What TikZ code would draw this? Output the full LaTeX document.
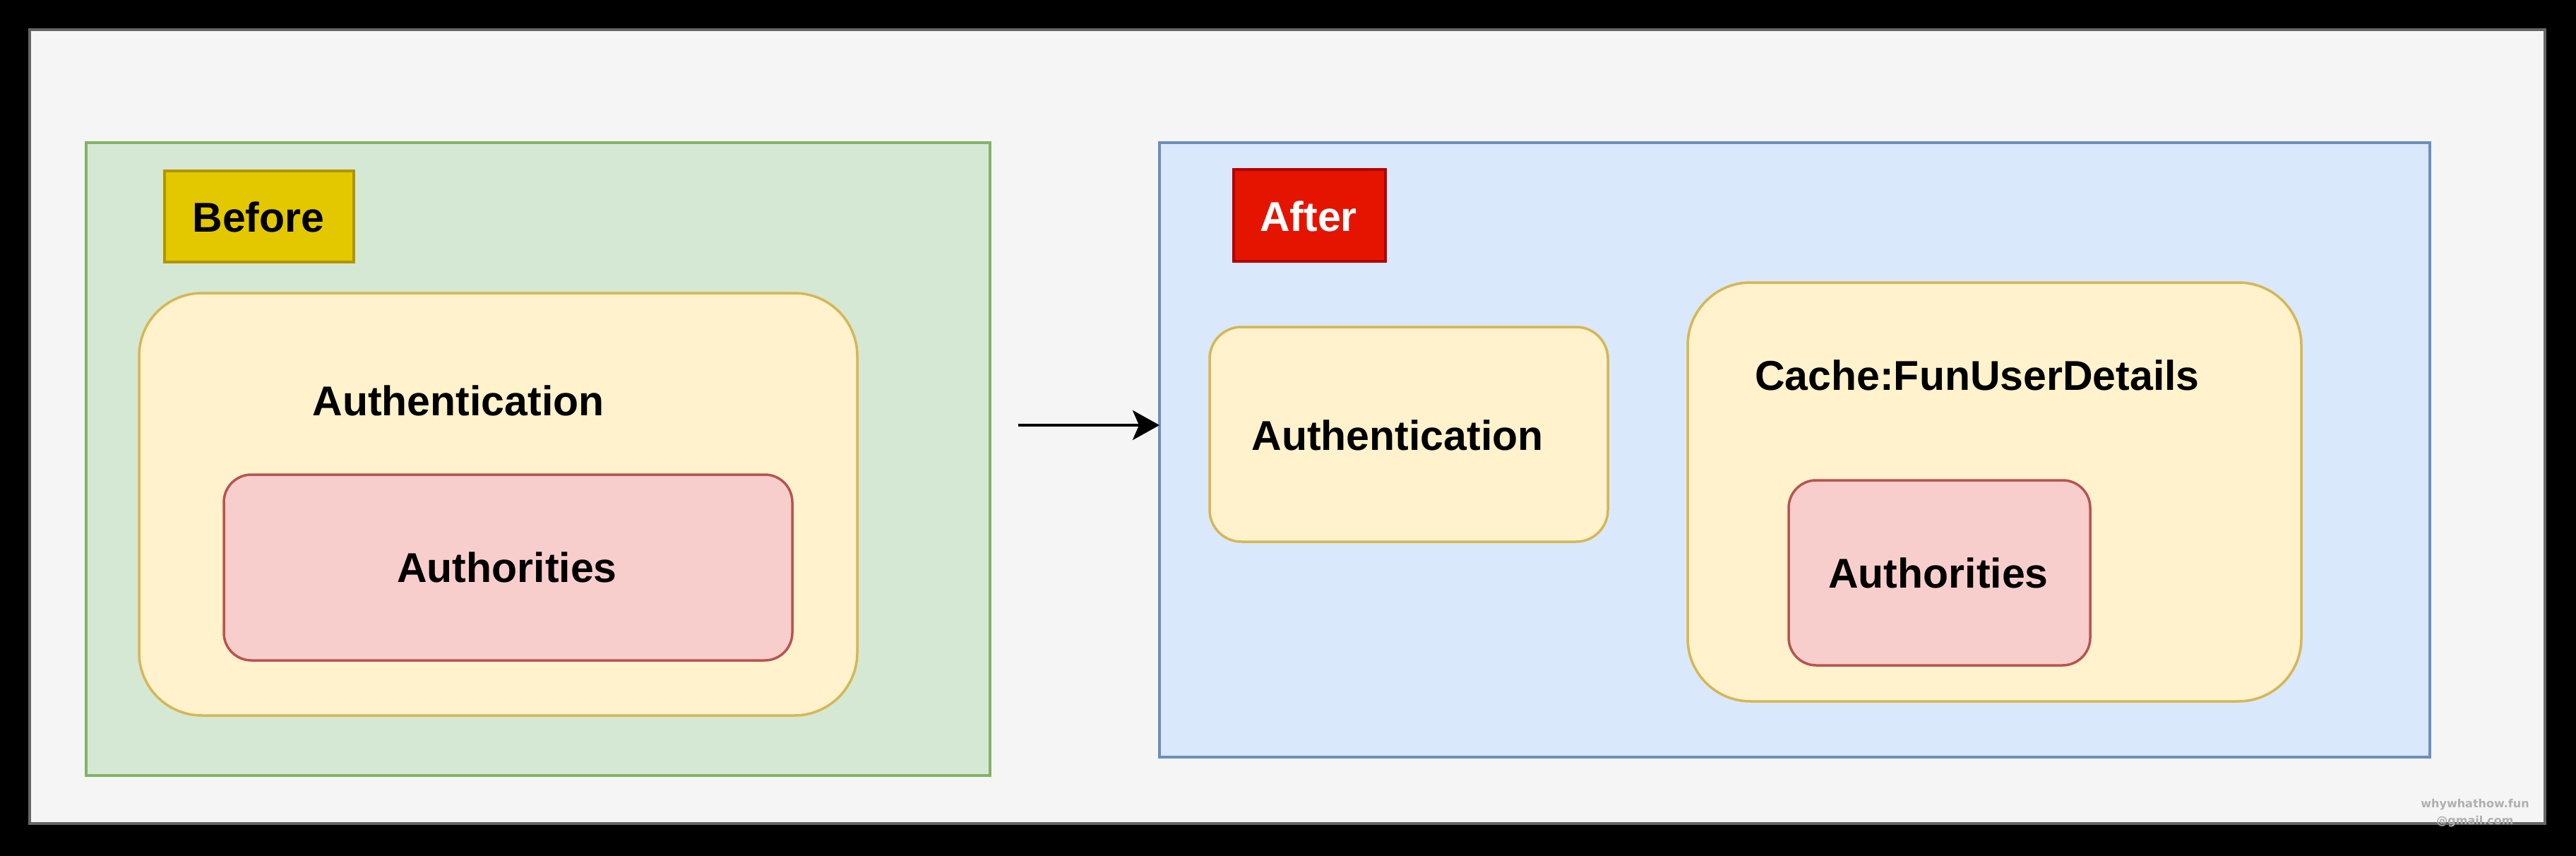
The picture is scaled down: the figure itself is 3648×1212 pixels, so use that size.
\documentclass[tikz,border=0pt]{standalone}
\usepackage{fontspec}
\setmainfont{Liberation Sans}
\newfontfamily\wmfont{DejaVu Sans}
\usetikzlibrary{arrows.meta}
\definecolor{outerfill}{HTML}{F5F5F5}
\definecolor{outerline}{HTML}{666666}
\definecolor{greenfill}{HTML}{D5E8D4}
\definecolor{greenline}{HTML}{82B366}
\definecolor{bluefill}{HTML}{DAE8FC}
\definecolor{blueline}{HTML}{6C8EBF}
\definecolor{yelfill}{HTML}{FFF2CC}
\definecolor{yelline}{HTML}{D6B656}
\definecolor{redfill}{HTML}{F8CECC}
\definecolor{redline}{HTML}{B85450}
\definecolor{goldfill}{HTML}{E3C800}
\definecolor{goldline}{HTML}{B09500}
\definecolor{tagredfill}{HTML}{E51400}
\definecolor{tagredline}{HTML}{B20000}
\definecolor{wmgrey}{HTML}{AFAFAF}
\tikzset{
  panel/.style={rectangle, draw, line width=3.5pt, inner sep=0pt, outer sep=0pt, anchor=north west},
  roundbox/.style={panel, rounded corners=#1},
  lbl/.style={font=\fontsize{59}{70}\selectfont\bfseries, inner sep=0pt, anchor=base},
  arrowline/.style={line width=4pt, -{Stealth[length=38pt, width=42pt, inset=9pt]}},
}
\begin{document}
\begin{tikzpicture}[x=1pt,y=-1pt]
\fill[black] (0,0) rectangle (3648,1212);
\useasboundingbox (0,0) rectangle (3648,1212);
% outer panel
\node[panel, fill=outerfill, draw=outerline, line width=4pt, minimum width=3562pt, minimum height=1124pt] (outer) at (42,42) {};
% Before side
\node[panel, fill=greenfill, draw=greenline, minimum width=1280pt, minimum height=896pt] (before) at (122,202) {};
\node[panel, fill=goldfill, draw=goldline, minimum width=268pt, minimum height=129pt] (beforetag) at (233,242) {};
\node[lbl] (beforetxt) at (366,328) {Before};
\node[roundbox=89pt, fill=yelfill, draw=yelline, minimum width=1017pt, minimum height=598pt] (authA) at (197,415) {};
\node[lbl] (authAtxt) at (649,588) {Authentication};
\node[roundbox=39pt, fill=redfill, draw=redline, minimum width=805pt, minimum height=263pt] (roleA) at (317,672) {};
\node[lbl] (roleAtxt) at (718,824) {Authorities};
% After side
\node[panel, fill=bluefill, draw=blueline, minimum width=1799pt, minimum height=870pt] (after) at (1642,202) {};
\node[panel, fill=tagredfill, draw=tagredline, minimum width=215pt, minimum height=130pt] (aftertag) at (1747,240) {};
\node[lbl, text=white] (aftertxt) at (1853,327) {After};
\node[roundbox=45pt, fill=yelfill, draw=yelline, minimum width=564pt, minimum height=304pt] (authB) at (1713,463) {};
\node[lbl] (authBtxt) at (1979,637) {Authentication};
\node[roundbox=89pt, fill=yelfill, draw=yelline, minimum width=869pt, minimum height=593pt] (cache) at (2390,400) {};
\node[lbl] (cachetxt) at (2800,552) {Cache:FunUserDetails};
\node[roundbox=39pt, fill=redfill, draw=redline, minimum width=427pt, minimum height=262pt] (roleB) at (2533,680) {};
\node[lbl] (roleBtxt) at (2745,832) {Authorities};
% arrow
\coordinate (arrowstart) at (1442,602);
\draw[arrowline] (arrowstart) -- (arrowstart -| after.west);
% watermark
\node[text=wmgrey, font=\wmfont\bfseries\fontsize{16}{24}\selectfont, align=center, inner sep=0pt] (wm) at (3505,1151) {whywhathow.fun\\@gmail.com};
\end{tikzpicture}
\end{document}
